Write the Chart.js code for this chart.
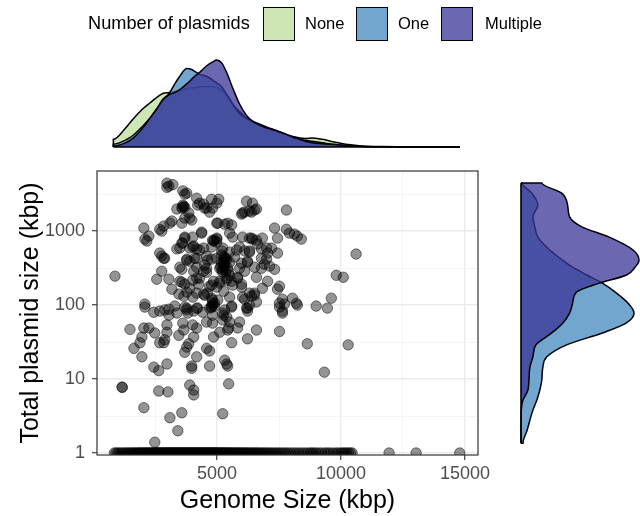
<!DOCTYPE html>
<html>
<head>
<meta charset="utf-8">
<script src="https://cdn.jsdelivr.net/npm/chart.js@4.4.1/dist/chart.umd.min.js"></script>
<style>
html,body{margin:0;padding:0;background:#fff;width:640px;height:516px;overflow:hidden;font-family:"Liberation Sans",Arial,Helvetica,sans-serif;}
#wrap{position:relative;width:640px;height:516px;}
#wrap canvas{position:absolute;left:0;top:0;}
.lg{position:absolute;white-space:nowrap;color:#000;}
.sw{position:absolute;box-sizing:border-box;border:1.5px solid #000;}
</style>
</head>
<body>
<div id="wrap">
<canvas id="mainChart" width="640" height="516"></canvas>
<canvas id="topChart" width="640" height="516"></canvas>
<canvas id="rightChart" width="640" height="516"></canvas>
<div id="legend"></div>
</div>
<script>
// ---------------- data ----------------
const groups = ['None', 'One', 'Multiple'];
const groupFill = ['rgba(188,222,155,0.75)', 'rgba(68,136,191,0.75)', 'rgba(58,52,150,0.75)'];
const legendTitle = 'Number of plasmids';
const xTitle = 'Genome Size (kbp)';
const yTitle = 'Total plasmid size (kbp)';
const xTickValues = [2500, 5000, 7500, 10000, 12500, 15000];
const yTickValues = [1, 3.162, 10, 31.62, 100, 316.2, 1000, 3162];

// genomes without plasmids (plotted at total plasmid size = 1)
const noneGenome = [860, 930, 1000, 1080, 1150, 1220, 1300, 1360, 1420, 1490, 1550, 1600, 1650, 1710, 1760, 1810, 1850, 1890, 1930, 1980, 2020, 2060, 2100, 2140, 2180, 2220, 2250, 2290, 2330, 2370, 2400, 2440, 2470, 2510, 2540, 2570, 2600, 2630, 2660, 2690, 2720, 2760, 2790, 2820, 2850, 2880, 2910, 2940, 2970, 3000, 3030, 3060, 3090, 3120, 3150, 3180, 3210, 3240, 3270, 3300, 3330, 3360, 3390, 3420, 3450, 3480, 3510, 3540, 3570, 3600, 3630, 3660, 3690, 3720, 3750, 3780, 3810, 3840, 3870, 3900, 3930, 3960, 3990, 4020, 4050, 4080, 4110, 4140, 4170, 4200, 4230, 4260, 4290, 4320, 4350, 4380, 4410, 4440, 4470, 4500, 4530, 4560, 4590, 4620, 4650, 4680, 4710, 4740, 4770, 4800, 4830, 4860, 4890, 4920, 4950, 4980, 5010, 5040, 5080, 5110, 5150, 5180, 5220, 5250, 5290, 5320, 5360, 5400, 5440, 5480, 5520, 5560, 5600, 5640, 5690, 5730, 5780, 5820, 5870, 5910, 5960, 6010, 6060, 6110, 6160, 6210, 6270, 6320, 6380, 6440, 6500, 6560, 6620, 6680, 6750, 6820, 6890, 6960, 7030, 7100, 7180, 7260, 7340, 7420, 7500, 7590, 7680, 7770, 7870, 7970, 8080, 8190, 8300, 8410, 8520, 8640, 8750, 8830, 8900, 9000, 9100, 9220, 9350, 9450, 9550, 9680, 9800, 9900, 10000, 10080, 10150, 10230, 10300, 10380, 10450, 11940, 13030, 14790];

// genomes with plasmids: [genome size kbp, total plasmid size kbp]
const plasmidPoints = [
[2980,4460],[3060,4050],[3620,3500],[3700,3160],[3780,3260],[4180,2790],[4300,2390],[4460,2320],[4580,2050],[4780,2700],[5070,2700],[3580,2050],[3660,2180],[3620,2100],[3380,1990],[3860,1760],[3900,1500],[2050,1100],[2090,780],[2170,735],[2250,855],[2690,1060],[2770,1000],[2850,1170],[3100,1280],[3180,1370],[3580,1280],[4380,940],[4990,1280],[5310,1240],[4860,735],[4990,780],[3700,805],[3580,690],[3380,575],[3500,590],[2690,505],[2850,430],[2890,430],[2770,460],[3900,590],[4060,630],[4180,575],[4460,590],[3780,418],[3900,392],[4180,430],[4580,460],[4780,418],[5190,540],[5310,430],[5270,315],[5470,287],[5390,231],[3580,305],[4060,287],[4180,231],[4580,315],[4460,287],[884,246],[2570,224],[2770,287],[3060,224],[3500,210],[3700,192],[3900,169],[4260,192],[4700,180],[4860,210],[5110,210],[3180,164],[3460,141],[3660,132],[4180,145],[4460,141],[4780,124],[4900,106],[5270,154],[2090,103],[2690,83],[3060,88],[3300,97],[3780,91],[4060,83],[4700,91],[4900,97],
[6190,2540],[6430,2390],[6590,1990],[6310,1870],[6030,1760],[5990,1700],[7800,1930],[7320,1100],[7440,805],[7800,1060],[7920,940],[8120,910],[8240,855],[8400,780],[6310,805],[6430,780],[6830,805],[6630,670],[7000,590],[7200,590],[6110,540],[6310,540],[6790,575],[7040,505],[7440,505],[6230,392],[6790,430],[7000,418],[6790,315],[7320,305],[6910,357],[7120,336],[10610,490],[6110,287],[5830,231],[5990,192],[5590,210],[9810,253],[10090,238],[7040,210],[6830,169],[7440,164],[7520,180],[6510,145],[6390,132],[6110,120],[5590,97],[6230,91],[7640,120],[7520,106],[7720,103],[8040,124],[8200,106],[9000,97],[9450,91],[9610,124],[7640,83],[6230,83],
[2090,94],[2450,80],[2890,86],[3060,73],[3380,78],[3780,86],[4180,91],[4780,94],[5270,73],[1490,47],[2050,49],[2250,49],[2490,42],[2980,54],[2980,43],[3460,39],[3660,46],[4060,37],[4180,49],[4860,37],[5110,43],[5470,49],[1970,37],[1890,31],[1650,26],[1970,20],[2690,31],[2850,31],[2890,34],[3860,30],[3780,27],[3700,23],[4580,26],[4700,24],[4180,20],[5310,18],[5390,16],[2450,14.5],[2650,13],[2980,16],[3980,15],[3980,14],[4700,15],[1170,7.8],[1180,7.7],[2650,6.9],[3020,6.7],[3900,8.3],[4060,7.1],[4060,6.1],[5470,8.6],[2050,4.1],[3100,3.0],[3580,3.5],[3420,2.0],[5230,3.4],[2490,1.4],
[5310,86],[5390,69],[5910,59],[5830,49],[5430,46],[6230,35],[6590,46],[5590,31],[7520,94],[7640,78],[8240,100],[7520,44],[8640,30],[10290,29],[9330,12.4],[5430,15],
[3620,2250],[4220,2250],[4500,2050],[4700,1810],[4820,2050],[4990,2390],[6110,1810],[6390,1810],[6510,1930],[3700,1500],[3980,1410],[5030,1280],[5430,1280],[5590,1210],[3700,830],[4020,830],[4380,970],[4820,755],[4990,710],[5510,940],[5630,830],[6030,830],[6390,805],[6590,755],[3620,690],[4020,610],[4300,555],[4780,610],[5230,590],[5510,520],[5790,555],[5910,610],[6310,520],[3780,405],[4100,430],[4500,346],[4620,405],[4990,430],[5190,368],[5390,405],[5710,445],[5990,368],[6230,380],[3500,325],[4180,325],[4580,278],[5110,315],[5230,278],[5510,253],[5910,315],[5830,238],[6510,325],[6590,238],[3580,204],[4020,217],[4300,231],[4780,186],[5110,198],[5390,217],[5630,186],[5990,175],[3780,150],[4020,128],[4500,136],[4620,145],[4820,117],[5030,117],[5510,128],[6030,128],[6310,145],[6510,136],[6590,110],[3700,94],[3820,78],[4220,91],[4420,80],[4780,94],[4820,73],[5230,78],[5590,94],[6190,91],[6310,100],[3620,57],[4020,54],[4580,59],[4820,57],[5230,63],[5510,59],
[5190,475],[5310,380],[5430,315],[5350,430],[5270,346],[5510,380],[4900,755],[4990,805],[4990,175],[4820,106],[4820,100],[3700,2100],[3220,4250],[2980,3900],[5250,400],[5300,350],[5200,300],[5350,280],[5280,450],[5150,330]
];

// marginal density of genome size (relative density)
const genomeGrid = [820, 1286, 1608, 2010, 2291, 2573, 2814, 3095, 3296, 3497, 3779, 3980, 4100, 4301, 4583, 4824, 4985, 5186, 5387, 5628, 5909, 6191, 6432, 6995, 7517, 8040, 8563, 8844, 9246, 9769, 10291, 10814, 11658, 13000, 14790];
const genomeDensNone = [8, 19, 29, 40, 46, 52, 56, 57, 58, 59, 61, 62, 62, 63, 63, 63, 62, 59, 55, 45, 37, 30, 26, 20, 15, 11, 9, 9.5, 8, 5, 2.5, 1, 0.4, 0.2, 0];
const genomeDensOne = [3, 7, 12, 22, 30, 40, 48, 57, 66, 74, 82, 81, 79, 76, 74, 70, 67, 63, 55, 45, 35, 30, 27, 21, 16, 10, 7, 6, 4.5, 2.5, 1.2, 0.6, 0.3, 0.1, 0];
const genomeDensMultiple = [1, 4, 9, 20, 30, 40, 50, 55, 57, 60, 66, 71, 74, 78, 85, 89, 91, 88, 78, 62, 45, 33, 27, 20, 16, 11, 6, 4.5, 3.5, 2.5, 1.5, 0.8, 0.3, 0.1, 0];

// marginal density of total plasmid size (relative density, log scale)
const plasmidGrid = [1.36, 2.0, 3.8, 5.2, 7.1, 9.7, 14.5, 20, 29, 42, 57, 78, 106, 150, 198, 253, 325, 405, 555, 830, 1130, 1560, 2250, 3260, 4460];
const plasmidDensOne = [2, 6, 12, 16, 19, 21, 22, 26, 46, 82, 106, 114, 108, 95, 82, 67, 52, 42, 29, 17, 14, 12, 17, 11, 1];
const plasmidDensMultiple = [0, 0, 0.3, 2, 7, 8, 9, 12, 15, 31, 42, 49, 52, 56, 79, 106, 115, 119, 113, 89, 62, 49, 47, 41, 21];

// ---------------- shared scale limits ----------------
const xMin = 160, xMax = 15525;
const yMin = 0.94, yMax = 6500;
const FONT = "'Liberation Sans', Arial, Helvetica, sans-serif";
Chart.defaults.font.family = FONT;

const isMajorLog = v => Math.abs(Math.log10(v) - Math.round(Math.log10(v))) < 1e-6;
const isMajorX = v => v % 5000 === 0;

// ---------------- legend (HTML) ----------------
(function () {
  const lg = document.getElementById('legend');
  const t = document.createElement('div');
  t.className = 'lg'; t.textContent = legendTitle;
  t.style.cssText = 'left:88px;top:13px;font-size:18.2px;';
  lg.appendChild(t);
  const swLeft = [263, 356, 441], txLeft = [305, 398, 485];
  groups.forEach((g, i) => {
    const s = document.createElement('div');
    s.className = 'sw';
    s.style.cssText = `left:${swLeft[i]}px;top:7px;width:32px;height:34px;background:${groupFill[i]};`;
    lg.appendChild(s);
    const l = document.createElement('div');
    l.className = 'lg'; l.textContent = g;
    l.style.cssText = `left:${txLeft[i]}px;top:14px;font-size:16.5px;`;
    lg.appendChild(l);
  });
})();

// ---------------- main scatter ----------------
const panelBorder = {
  id: 'panelBorder',
  afterDatasetsDraw(chart) {
    const {ctx, chartArea: a} = chart;
    ctx.save();
    ctx.strokeStyle = '#333333';
    ctx.lineWidth = 1.2;
    ctx.strokeRect(a.left, a.top, a.right - a.left, a.bottom - a.top);
    ctx.restore();
  }
};

const pointStyle = {
  backgroundColor: 'rgba(0,0,0,0.42)',
  borderColor: 'rgba(0,0,0,0.5)',
  borderWidth: 1,
  pointRadius: 5.2,
  pointHoverRadius: 5.2,
  clip: 0
};

new Chart(document.getElementById('mainChart'), {
  type: 'scatter',
  data: {
    datasets: [
      Object.assign({label: 'None', data: noneGenome.map(g => ({x: g, y: 1}))}, pointStyle),
      Object.assign({label: 'Plasmids', data: plasmidPoints.map(([g, p]) => ({x: g, y: p}))}, pointStyle)
    ]
  },
  options: {
    responsive: false, animation: false, devicePixelRatio: 1,
    layout: {padding: {left: 16, right: 162, top: 171, bottom: 0}},
    plugins: {legend: {display: false}, tooltip: {enabled: false}},
    scales: {
      x: {
        type: 'linear', min: xMin, max: xMax,
        afterBuildTicks: s => { s.ticks = xTickValues.map(v => ({value: v})); },
        afterFit: s => { s.height = 61; },
        border: {display: false},
        grid: {
          color: c => (c.tick && isMajorX(c.tick.value)) ? '#ebebeb' : '#f3f3f3',
          lineWidth: c => (c.tick && isMajorX(c.tick.value)) ? 1.4 : 0.8,
          tickColor: c => (c.tick && isMajorX(c.tick.value)) ? '#333333' : 'rgba(0,0,0,0)',
          tickLength: 5, tickWidth: 1.1, drawTicks: true
        },
        ticks: {
          autoSkip: false, maxRotation: 0, padding: 3, color: '#4d4d4d',
          font: {size: 18},
          callback: v => isMajorX(v) ? String(v) : ''
        },
        title: {display: true, text: xTitle, color: '#000', font: {size: 25}, padding: {top: 0, bottom: 0}}
      },
      y: {
        type: 'logarithmic', min: yMin, max: yMax,
        afterBuildTicks: s => { s.ticks = yTickValues.map(v => ({value: v})); },
        afterFit: s => { s.width = 81; },
        border: {display: false},
        grid: {
          color: c => (c.tick && isMajorLog(c.tick.value)) ? '#ebebeb' : '#f3f3f3',
          lineWidth: c => (c.tick && isMajorLog(c.tick.value)) ? 1.4 : 0.8,
          tickColor: c => (c.tick && isMajorLog(c.tick.value)) ? '#333333' : 'rgba(0,0,0,0)',
          tickLength: 5, tickWidth: 1.1, drawTicks: true
        },
        ticks: {
          autoSkip: false, padding: 7, color: '#4d4d4d',
          font: {size: 18},
          callback: v => isMajorLog(v) ? String(Math.round(v)) : ''
        },
        title: {display: true, text: yTitle, color: '#000', font: {size: 25}, padding: {top: 0, bottom: 0}}
      }
    }
  },
  plugins: [panelBorder]
});

// ---------------- top marginal density ----------------
function topCurve(ys) {
  const pts = [{x: genomeGrid[0], y: 0}];
  genomeGrid.forEach((g, i) => pts.push({x: g, y: ys[i]}));
  pts.push({x: genomeGrid[genomeGrid.length - 1], y: 0});
  return pts;
}
const densStyle = {
  fill: 'origin', borderColor: '#000', borderWidth: 1.5,
  pointRadius: 0, cubicInterpolationMode: 'monotone', clip: false
};
new Chart(document.getElementById('topChart'), {
  type: 'line',
  data: {
    datasets: [
      {label: 'base', data: [{x: genomeGrid[0], y: 0}, {x: genomeGrid[genomeGrid.length - 1], y: 0}],
       borderColor: '#000', borderWidth: 1.6, pointRadius: 0, fill: false, clip: false},
      Object.assign({label: groups[2], data: topCurve(genomeDensMultiple), backgroundColor: groupFill[2]}, densStyle),
      Object.assign({label: groups[1], data: topCurve(genomeDensOne), backgroundColor: groupFill[1]}, densStyle),
      Object.assign({label: groups[0], data: topCurve(genomeDensNone), backgroundColor: groupFill[0]}, densStyle)
    ]
  },
  options: {
    responsive: false, animation: false, devicePixelRatio: 1,
    layout: {padding: {left: 97, right: 162, top: 60, bottom: 369}},
    plugins: {legend: {display: false}, tooltip: {enabled: false}},
    scales: {
      x: {type: 'linear', display: false, min: xMin, max: xMax},
      y: {type: 'linear', display: false, min: 0, max: 91}
    }
  }
});

// ---------------- right marginal density ----------------
function rightCurve(xs) {
  const pts = [{x: 0, y: plasmidGrid[0]}];
  plasmidGrid.forEach((p, i) => pts.push({x: xs[i], y: p}));
  pts.push({x: 0, y: plasmidGrid[plasmidGrid.length - 1]});
  return pts;
}
new Chart(document.getElementById('rightChart'), {
  type: 'line',
  data: {
    datasets: [
      {label: 'base', data: [{x: 0, y: plasmidGrid[0]}, {x: 0, y: plasmidGrid[plasmidGrid.length - 1]}],
       borderColor: '#000', borderWidth: 1.6, pointRadius: 0, fill: false, clip: false},
      Object.assign({label: groups[2], data: rightCurve(plasmidDensMultiple), backgroundColor: groupFill[2]}, densStyle),
      Object.assign({label: groups[1], data: rightCurve(plasmidDensOne), backgroundColor: groupFill[1]}, densStyle)
    ]
  },
  options: {
    indexAxis: 'y',
    responsive: false, animation: false, devicePixelRatio: 1,
    layout: {padding: {left: 521, right: 0, top: 171, bottom: 61}},
    plugins: {legend: {display: false}, tooltip: {enabled: false}},
    scales: {
      x: {type: 'linear', display: false, min: 0, max: 120},
      y: {type: 'logarithmic', display: false, min: yMin, max: yMax}
    }
  }
});
</script>
</body>
</html>
